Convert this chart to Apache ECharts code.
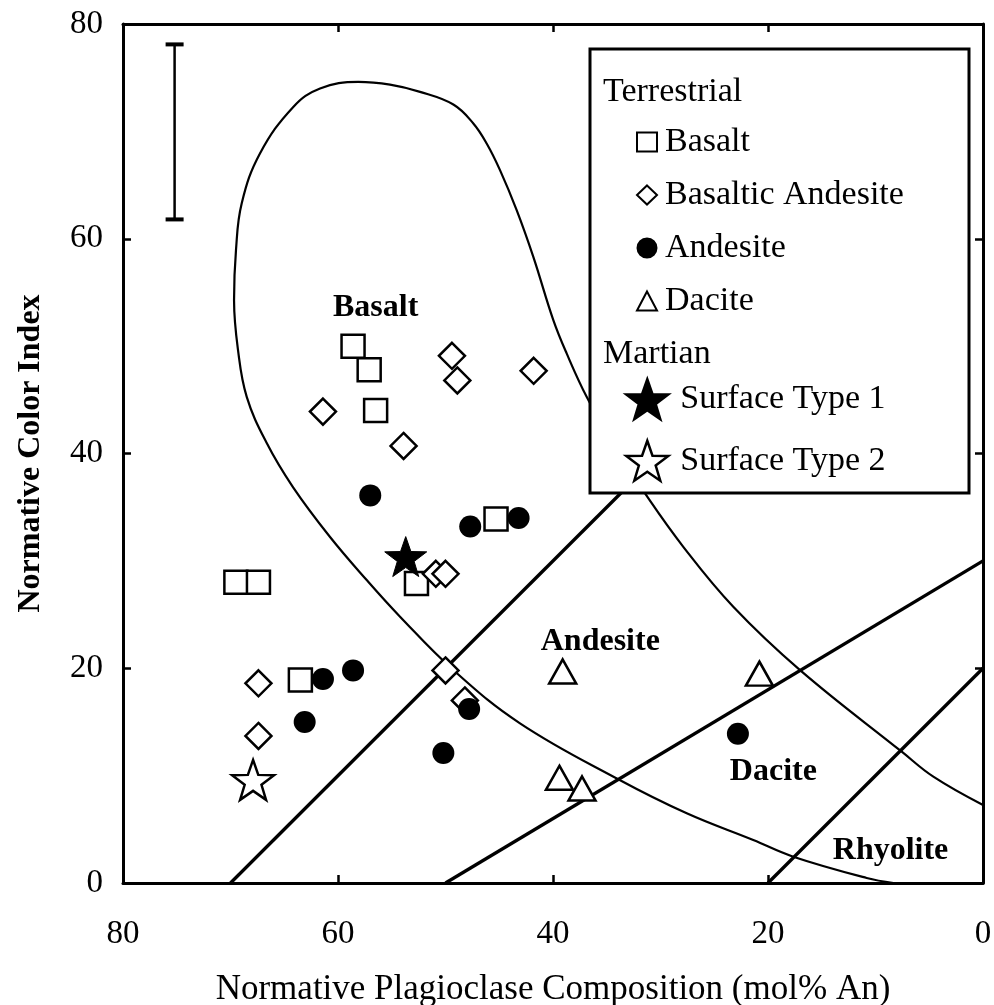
<!DOCTYPE html>
<html>
<head>
<meta charset="utf-8">
<script src="https://cdn.jsdelivr.net/npm/echarts@6.0.0/dist/echarts.min.js"></script>
<style>
  html, body { margin: 0; padding: 0; background: #fff; }
  #chart { width: 994px; height: 1005px; }
</style>
</head>
<body>
<div id="chart"></div>
<script>
// Normative plagioclase composition (mol% An) vs normative colour index.

// Axis ticks (both axes run 0..80 in steps of 20; the An axis is reversed)
const axisTicks = [0, 20, 40, 60, 80];

// Terrestrial samples: [An, colour index]
const basalt = [
  [58.6, 50.0], [57.1, 47.8], [56.5, 44.0], [45.3, 33.9],
  [52.7, 27.9], [69.5, 28.0], [67.4, 28.0], [63.5, 18.9]
];
const basalticAndesite = [
  [49.4, 49.1], [48.9, 46.8], [41.8, 47.7], [61.4, 43.9],
  [53.9, 40.7], [50.9, 28.8], [50.0, 28.8], [67.4, 18.6],
  [67.4, 13.7], [50.0, 19.8], [48.2, 17.0]
];
const andesite = [
  [57.0, 36.1], [47.7, 33.2], [43.2, 34.0], [61.4, 19.0],
  [58.6, 19.8], [63.1, 15.0], [47.8, 16.2], [50.2, 12.1],
  [22.8, 13.9]
];
const dacite = [[39.1, 19.7], [20.8, 19.5], [39.4, 9.8], [37.3, 8.8]];

// Martian surface types
const surfaceType1 = [[53.7, 30.4]];
const surfaceType2 = [[67.9, 9.6]];

// Field boundaries
const basaltAndesiteLine = [[70, 0], [32, 38]];
const andesiteDaciteLine = [[50, 0], [0, 30]];
const daciteRhyoliteLine = [[20, 0], [0, 20]];
const basaltFieldCurve = [
  [8.34, 0], [10.82, 0.47], [17.65, 2.45], [21.37, 4.0], [27.56, 6.49],
  [33.93, 9.66], [43.07, 14.87], [49.27, 19.83], [54.23, 24.8], [57.33, 28.21],
  [60.74, 32.22], [64.19, 36.87], [66.63, 40.97], [68.49, 45.28], [69.3, 49.63],
  [69.67, 54.28], [69.49, 58.94], [68.96, 63.29], [67.26, 67.94], [64.16, 72.28],
  [61.67, 74.0], [58.11, 74.61], [55.16, 74.35], [52.37, 73.68], [49.27, 72.5],
  [47.41, 70.74], [46.17, 68.87], [44.93, 66.39], [43.38, 62.66], [41.83, 58.31],
  [39.97, 52.42], [38.73, 49.32], [36.87, 45.28], [34.23, 40.6], [31.44, 36.28],
  [27.88, 31.31], [23.23, 25.73], [17.02, 19.83], [7.56, 12.23], [4.62, 9.9],
  [0, 7.26]
];

// Typical uncertainty bar
const errorBar = [[75.2, 61.8], [75.2, 78.1]];

// Field names and where they sit
const fieldLabels = [
  { name: 'Basalt', value: [56.5, 53.6] },
  { name: 'Andesite', value: [35.6, 22.5] },
  { name: 'Dacite', value: [19.5, 10.4] },
  { name: 'Rhyolite', value: [8.6, 3.0] }
];

const xTitle = 'Normative Plagioclase Composition (mol% An)';
const yTitle = 'Normative Color Index';

const FONT = '"Liberation Serif", "Times New Roman", Times, serif';
const STAR = 'path://M50,0L61.76,33.82L97.55,34.55L69.02,56.18L79.39,90.45L50,70L20.61,90.45L30.98,56.18L2.45,34.55L38.24,33.82Z';

const axisMin = axisTicks[0];
const axisMax = axisTicks[axisTicks.length - 1];
const axisStep = axisTicks[1] - axisTicks[0];

function frameAxis(position, showLabel, extra) {
  return Object.assign({
    type: 'value',
    position: position,
    min: axisMin,
    max: axisMax,
    interval: axisStep,
    axisLine: { show: true, onZero: false, lineStyle: { color: '#000', width: 3 } },
    axisTick: { show: true, inside: true, length: 8, lineStyle: { color: '#000', width: 2.5 } },
    axisLabel: {
      show: showLabel, color: '#000', fontFamily: FONT, fontSize: 33,
      showMinLabel: true, showMaxLabel: true
    },
    splitLine: { show: false }
  }, extra || {});
}

const xBottom = frameAxis('bottom', true, {
  inverse: true,
  name: xTitle,
  nameLocation: 'middle',
  nameGap: 89,
  nameTextStyle: { color: '#000', fontFamily: FONT, fontSize: 35 }
});
xBottom.axisLabel.margin = 35;
const xTop = frameAxis('top', false, { inverse: true });

const yLeft = frameAxis('left', true, {
  name: yTitle,
  nameLocation: 'middle',
  nameRotate: 90,
  nameGap: 76,
  nameTextStyle: { color: '#000', fontFamily: FONT, fontSize: 32, fontWeight: 'bold' }
});
yLeft.axisLabel.margin = 20;
const yRight = frameAxis('right', false);

function hollow(name, data, symbol, size) {
  return {
    name: name, type: 'scatter', data: data, symbol: symbol, symbolSize: size,
    symbolKeepAspect: true,
    itemStyle: { color: '#fff', borderColor: '#000', borderWidth: 2.5, opacity: 1 },
    emphasis: { disabled: true }, z: 5
  };
}

function boundary(data, width, smooth) {
  return {
    type: 'line', data: data, showSymbol: false, symbol: 'none', smooth: smooth,
    lineStyle: { color: '#000', width: width }, silent: true, z: 2,
    emphasis: { disabled: true }
  };
}

const series = [
  boundary(basaltAndesiteLine, 3.3, false),
  boundary(andesiteDaciteLine, 3.3, false),
  boundary(daciteRhyoliteLine, 3.3, false),
  boundary(basaltFieldCurve, 2.2, 0.4),
  {
    type: 'line', data: errorBar, symbol: 'rect', symbolSize: [18, 4], showSymbol: true,
    showAllSymbol: true, itemStyle: { color: '#000' },
    lineStyle: { color: '#000', width: 2.5 }, silent: true, z: 3,
    emphasis: { disabled: true }
  },
  hollow('Basalt', basalt, 'rect', 23),
  hollow('Basaltic Andesite', basalticAndesite, 'diamond', 26),
  {
    name: 'Andesite', type: 'scatter', data: andesite, symbol: 'circle', symbolSize: 22,
    itemStyle: { color: '#000', borderColor: '#000', borderWidth: 0, opacity: 1 },
    emphasis: { disabled: true }, z: 5
  },
  hollow('Dacite', dacite, 'triangle', [27, 24]),
  {
    name: 'Surface Type 1', type: 'scatter', data: surfaceType1, symbol: STAR, symbolSize: 42,
    symbolKeepAspect: true,
    itemStyle: { color: '#000', borderColor: '#000', borderWidth: 1, opacity: 1 },
    emphasis: { disabled: true }, z: 6
  },
  hollow('Surface Type 2', surfaceType2, STAR, 42),
  {
    type: 'scatter', data: fieldLabels, symbol: 'circle', symbolSize: 1, silent: true,
    itemStyle: { color: 'rgba(255,255,255,0)', opacity: 1 },
    label: {
      show: true, position: 'inside', formatter: '{b}', color: '#000', opacity: 1,
      textBorderWidth: 0, fontFamily: FONT, fontSize: 32, fontWeight: 'bold'
    },
    emphasis: { disabled: true }, z: 4
  }
];

const legendText = { fontFamily: FONT, fontSize: 34, color: '#000', lineHeight: 34 };

const option = {
  backgroundColor: '#fff',
  animation: false,
  grid: {
    left: 123, right: 11, top: 24, bottom: 122,
    containLabel: false, outerBoundsMode: 'none'
  },
  xAxis: [xBottom, xTop],
  yAxis: [yLeft, yRight],
  legend: [
    {
      data: ['Basalt', 'Basaltic Andesite', 'Andesite', 'Dacite'],
      orient: 'vertical', left: 636, top: 125, padding: 0,
      itemWidth: 20, itemHeight: 19, itemGap: 19, selectedMode: false, z: 20,
      itemStyle: { borderWidth: 2 },
      textStyle: Object.assign({ padding: [0, 0, 0, 3] }, legendText)
    },
    {
      data: ['Surface Type 1', 'Surface Type 2'],
      orient: 'vertical', left: 625, top: 378, padding: 0,
      itemWidth: 44, itemHeight: 40, itemGap: 19, selectedMode: false, z: 20,
      itemStyle: { borderWidth: 2.5 },
      textStyle: Object.assign({ padding: [0, 0, 0, 6] }, legendText)
    }
  ],
  graphic: [
    {
      type: 'rect', z: 10, silent: true,
      shape: { x: 590, y: 49, width: 379, height: 444 },
      style: { fill: '#fff', stroke: '#000', lineWidth: 3 }
    },
    {
      type: 'text', z: 11, silent: true, x: 603, y: 92,
      style: {
        text: 'Terrestrial', font: '34px ' + FONT, fill: '#000',
        textAlign: 'left', textVerticalAlign: 'middle', align: 'left', verticalAlign: 'middle'
      }
    },
    {
      type: 'text', z: 11, silent: true, x: 603, y: 354,
      style: {
        text: 'Martian', font: '34px ' + FONT, fill: '#000',
        textAlign: 'left', textVerticalAlign: 'middle', align: 'left', verticalAlign: 'middle'
      }
    }
  ],
  series: series
};

const chart = echarts.init(document.getElementById('chart'), null, { renderer: 'canvas' });
chart.setOption(option);
</script>
</body>
</html>
